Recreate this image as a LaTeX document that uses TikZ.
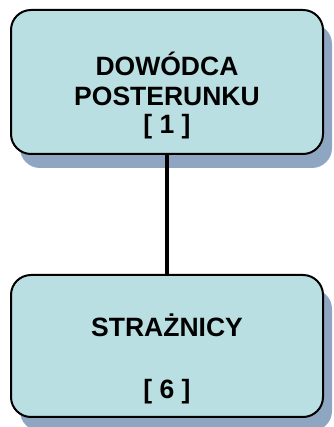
\documentclass[tikz,border=0pt]{standalone}
\usepackage{fontspec}
\setmainfont{Liberation Sans}
\definecolor{boxfill}{HTML}{BADFE2}
\definecolor{boxshadow}{HTML}{8FA6C3}
\begin{document}
\begin{tikzpicture}[x=1pt,y=1pt,
  orgbox/.style={draw=black, line width=2pt, rounded corners=20pt, fill=boxfill,
    minimum width=312pt, inner sep=0pt,
    preaction={draw=none, fill=boxshadow, transform canvas={shift={(9pt,-14pt)}}}},
  boxtext/.style={font=\bfseries\fontsize{26.5}{30}\selectfont, inner sep=0pt, anchor=base},
  link/.style={line width=3.5pt}]
  \useasboundingbox (0,0) rectangle (333,427);
  % unit boxes
  \node[orgbox, minimum height=144pt] (cmd) at (167,345) {};
  \node[orgbox, minimum height=142pt] (guards) at (167,81) {};
  % labels, one node per line
  \node[boxtext] (cmdname1) at (167,351) {DOWÓDCA};
  \node[boxtext] (cmdname2) at (167,321) {POSTERUNKU};
  \node[boxtext] (cmdcount) at (167,293) {[ 1 ]};
  \node[boxtext] (guardsname) at (167,90) {STRAŻNICY};
  \node[boxtext] (guardscount) at (167,28) {[ 6 ]};
  % reporting line
  \draw[link] (cmd.south) -- (guards.north);
\end{tikzpicture}
\end{document}
